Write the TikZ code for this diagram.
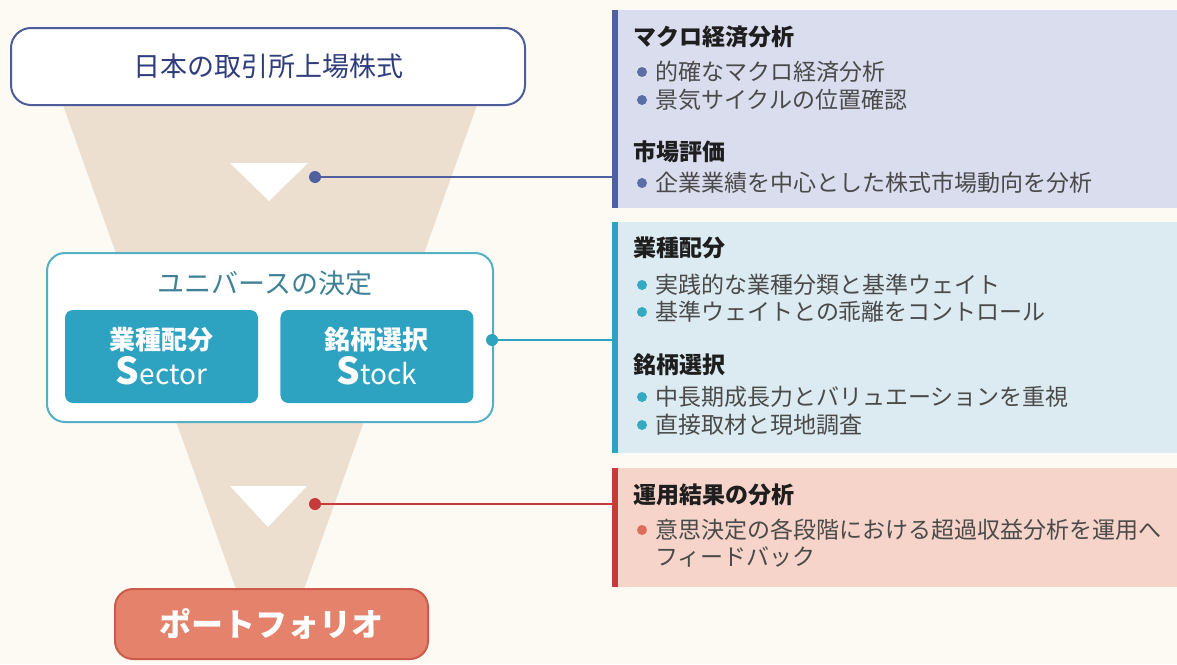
\documentclass[tikz,border=0pt]{standalone}
\usepackage{fontspec}
\setmainfont{Noto Sans CJK JP}
\usetikzlibrary{positioning}

\definecolor{cream}{HTML}{FCFAF3}
\definecolor{funnel}{HTML}{ECDFD0}
\definecolor{navyline}{HTML}{4E5C9C}
\definecolor{navytext}{HTML}{2F3D7C}
\definecolor{tealline}{HTML}{55AFC6}
\definecolor{tealfill}{HTML}{2EA2C1}
\definecolor{tealtext}{HTML}{3E8196}
\definecolor{salmon}{HTML}{E4826B}
\definecolor{salmonline}{HTML}{CC5B4B}
\definecolor{lav}{HTML}{DADDEE}
\definecolor{ice}{HTML}{DCEBF1}
\definecolor{pink}{HTML}{F6D4C9}
\definecolor{barA}{HTML}{4F60A0}
\definecolor{barB}{HTML}{2EA3BF}
\definecolor{barC}{HTML}{C73A3B}
\definecolor{dotA}{HTML}{5A6FA8}
\definecolor{dotB}{HTML}{35A9C2}
\definecolor{dotC}{HTML}{DD6E5C}
\definecolor{headtext}{HTML}{1E1E1E}
\definecolor{itemtext}{HTML}{4A4A4A}

\tikzset{
  box/.style={draw, fill=white, line width=2pt, rounded corners=20pt, inner sep=0pt},
  inner/.style={fill=tealfill, rounded corners=8pt, minimum width=193pt, minimum height=93pt,
    align=center, text=white, font=\fontsize{26}{35}\selectfont\bfseries},
  panel/.style={anchor=north west, inner sep=0pt, minimum width=565pt},
  tag/.style={circle, inner sep=0pt, minimum size=12pt},
  pt/.style={circle, inner sep=0pt, minimum size=10pt},
  head/.style={anchor=west, inner sep=0pt, text=headtext, font=\fontsize{23}{23}\selectfont\bfseries},
  item/.style={anchor=west, inner sep=0pt, text=itemtext, font=\fontsize{23}{23}\selectfont},
  link/.style={line width=1.6pt}
}

\begin{document}
\begin{tikzpicture}[x=1pt,y=-1pt]
\fill[cream] (0,0) rectangle (1177,664);
\useasboundingbox (0,0) rectangle (1177,664);

% funnel
\fill[funnel] (63,105) -- (477,105) -- (303,592) -- (237,592) -- cycle;
\fill[white] (230,163) -- (308,163) -- (269,201) -- cycle;
\fill[white] (230,486) -- (307,486) -- (268,527) -- cycle;

% left column
\node[box, draw=navyline, minimum width=514pt, minimum height=77pt, text=navytext,
  font=\fontsize{27}{27}\selectfont] (market) at (268,66.5) {日本の取引所上場株式};
\node[box, draw=tealline, rounded corners=18pt, minimum width=446pt, minimum height=169pt] (univ) at (270,337.5) {};
\node[text=tealtext, font=\fontsize{27}{27}\selectfont] (univt) at (265,283) {ユニバースの決定};
\node[inner] (sector) at (161.5,356.5) {業種配分\\{\fontsize{37}{35}\selectfont S}{\fontsize{28}{35}\selectfont\mdseries ector}};
\node[inner, right=22pt of sector] (stock) {銘柄選択\\{\fontsize{37}{35}\selectfont S}{\fontsize{28}{35}\selectfont\mdseries tock}};
\node[box, draw=salmonline, fill=salmon, rounded corners=18pt, minimum width=313pt, minimum height=70pt,
  text=white, font=\fontsize{32}{32}\selectfont\bfseries] (port) at (271.5,624) {ポートフォリオ};

% right panels
\node[panel, fill=lav, minimum height=198pt] (macro) at (612,10) {};
\node[panel, fill=ice, minimum height=231pt] (select) at (612,222) {};
\node[panel, fill=pink, minimum height=119pt] (review) at (612,468) {};
\fill[barA] (macro.north west) rectangle ([xshift=6pt]macro.south west);
\fill[barB] (select.north west) rectangle ([xshift=6pt]select.south west);
\fill[barC] (review.north west) rectangle ([xshift=6pt]review.south west);

% connectors
\node[tag, fill=barA] (d1) at (315,177) {};
\node[tag, fill=barB] (d2) at (492,340) {};
\node[tag, fill=barC] (d3) at (315,504) {};
\draw[link, barA] (d1) -- (d1 -| macro.west);
\draw[link, barB] (d2) -- (d2 -| select.west);
\draw[link, barC] (d3) -- (d3 -| review.west);

% texts
\node[head] (h1) at (633,37) {マクロ経済分析};
\node[pt, fill=dotA] (b1) at (642,72) {};
\node[item] (t1) at (655,72) {的確なマクロ経済分析};
\node[pt, fill=dotA] (b2) at (642,100) {};
\node[item] (t2) at (655,100) {景気サイクルの位置確認};
\node[head] (h2) at (633,152) {市場評価};
\node[pt, fill=dotA] (b3) at (642,183) {};
\node[item] (t3) at (655,183) {企業業績を中心とした株式市場動向を分析};

\node[head] (h3) at (633,248) {業種配分};
\node[pt, fill=dotB] (b4) at (642,285) {};
\node[item] (t4) at (655,285) {実践的な業種分類と基準ウェイト};
\node[pt, fill=dotB] (b5) at (642,312) {};
\node[item] (t5) at (655,312) {基準ウェイトとの乖離をコントロール};
\node[head] (h4) at (633,365) {銘柄選択};
\node[pt, fill=dotB] (b6) at (642,397) {};
\node[item] (t6) at (655,397) {中長期成長力とバリュエーションを重視};
\node[pt, fill=dotB] (b7) at (642,425) {};
\node[item] (t7) at (655,425) {直接取材と現地調査};

\node[head] (h5) at (633,495) {運用結果の分析};
\node[pt, fill=dotC] (b8) at (642,530) {};
\node[item] (t8) at (655,530) {意思決定の各段階における超過収益分析を運用へ};
\node[item] (t9) at (655,557) {フィードバック};
\end{tikzpicture}
\end{document}
